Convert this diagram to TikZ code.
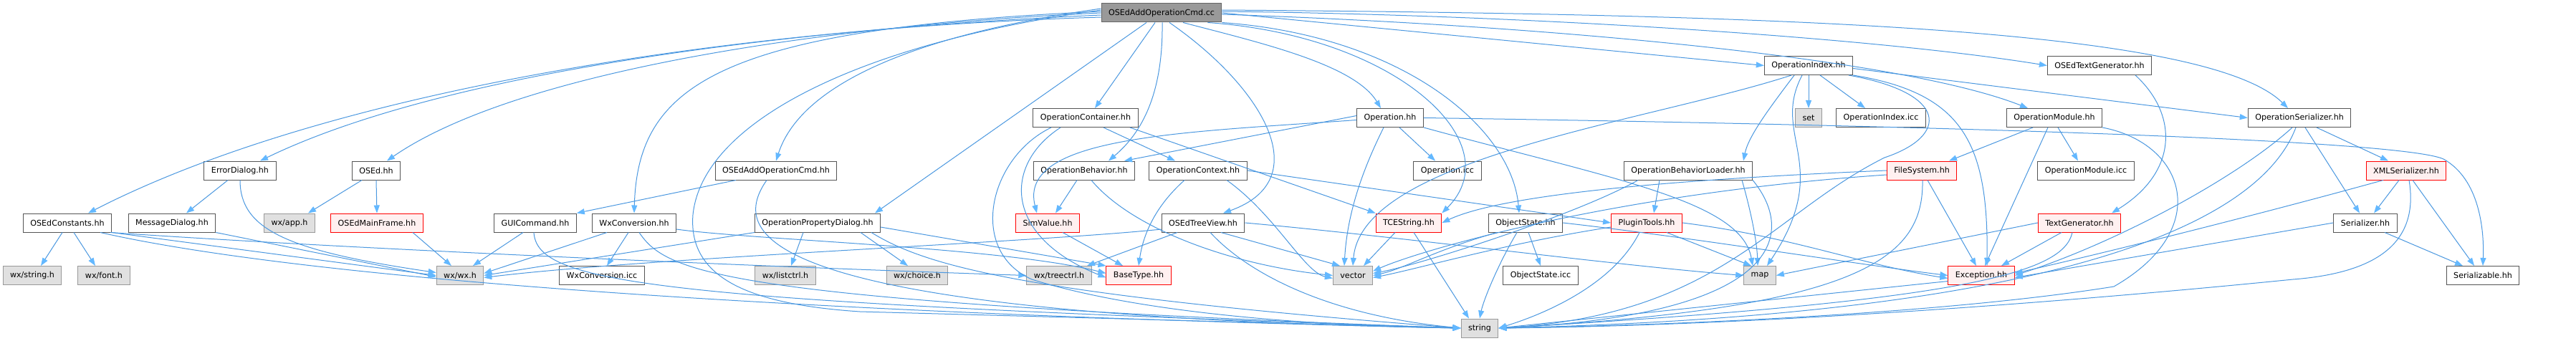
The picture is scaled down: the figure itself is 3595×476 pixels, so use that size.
\documentclass[tikz,border=0pt]{standalone}
\usepackage{fontspec}
\setmainfont{DejaVu Sans}
\usetikzlibrary{arrows.meta}
\definecolor{edgecol}{HTML}{4B98E0}
\definecolor{arrcol}{HTML}{63B8FF}
\definecolor{ndb}{HTML}{555555}
\definecolor{grb}{HTML}{999999}
\definecolor{grf}{HTML}{E0E0E0}
\definecolor{rdf}{HTML}{FFF0F0}
\definecolor{rtb}{HTML}{666666}
\definecolor{rtf}{HTML}{999999}
\newcommand\nodefnt{\fontsize{11.1pt}{13pt}\selectfont}
\begin{document}
\begin{tikzpicture}[x=1pt,y=-1pt,
  base/.style={draw, line width=1pt, minimum height=26pt, inner xsep=10pt, inner ysep=0pt, font=\nodefnt, text=black},
  nd/.style={base, draw=ndb, fill=white},
  gr/.style={base, draw=grb, fill=grf},
  rd/.style={base, draw=red, fill=rdf},
  rt/.style={base, draw=rtb, fill=rtf},
  dep/.style={draw=edgecol, line width=1pt, -{Triangle[length=11pt,width=8pt,color=arrcol]}}]
\fill[white] (0,0) rectangle (3595,476);
\path[use as bounding box] (0,0) rectangle (3595,476);

% nodes
\node[rt] (R) at (1621,18) {OSEdAddOperationCmd.cc};
\node[nd] (oidx) at (2524,91.5) {OperationIndex.hh};
\node[nd] (otg) at (2930,91.5) {OSEdTextGenerator.hh};
\node[nd] (opcont) at (1515,164.5) {OperationContainer.hh};
\node[nd] (op) at (1940,164.5) {Operation.hh};
\node[gr] (set) at (2524,164.5) {set};
\node[nd] (oidxicc) at (2625,164.5) {OperationIndex.icc};
\node[nd] (omod) at (2867,164.5) {OperationModule.hh};
\node[nd] (oser) at (3209,164.5) {OperationSerializer.hh};
\node[nd] (errd) at (335,238) {ErrorDialog.hh};
\node[nd] (osed) at (525,238) {OSEd.hh};
\node[nd] (addh) at (1083,238) {OSEdAddOperationCmd.hh};
\node[nd] (opbeh) at (1513,238) {OperationBehavior.hh};
\node[nd] (opctx) at (1672,238) {OperationContext.hh};
\node[nd] (opicc) at (2020,238) {Operation.icc};
\node[nd] (obl) at (2356,238) {OperationBehaviorLoader.hh};
\node[rd] (fs) at (2682,238) {FileSystem.hh};
\node[nd] (omicc) at (2911,238) {OperationModule.icc};
\node[rd] (xmls) at (3358,238) {XMLSerializer.hh};
\node[nd] (ocons) at (94,311) {OSEdConstants.hh};
\node[nd] (msgd) at (240,311) {MessageDialog.hh};
\node[gr] (wxapp) at (404,311) {wx/app.h};
\node[rd] (mframe) at (526,311) {OSEdMainFrame.hh};
\node[nd] (guic) at (747,311) {GUICommand.hh};
\node[nd] (wxc) at (885,311) {WxConversion.hh};
\node[nd] (oprop) at (1141,311) {OperationPropertyDialog.hh};
\node[rd] (simv) at (1462,311) {SimValue.hh};
\node[nd] (tview) at (1679,311) {OSEdTreeView.hh};
\node[rd] (tce) at (1966,311) {TCEString.hh};
\node[nd] (ost) at (2129,311) {ObjectState.hh};
\node[rd] (plug) at (2298,311) {PluginTools.hh};
\node[rd] (tgen) at (2902,311) {TextGenerator.hh};
\node[nd] (ser) at (3301,311) {Serializer.hh};
\node[gr] (wxstr) at (45,384.5) {wx/string.h};
\node[gr] (wxfont) at (145,384.5) {wx/font.h};
\node[gr] (wxwx) at (642,384.5) {wx/wx.h};
\node[nd] (wxcicc) at (840,384.5) {WxConversion.icc};
\node[gr] (listc) at (1096,384.5) {wx/listctrl.h};
\node[gr] (choice) at (1280,384.5) {wx/choice.h};
\node[gr] (treec) at (1478,384.5) {wx/treectrl.h};
\node[rd] (btype) at (1589,384.5) {BaseType.hh};
\node[gr] (vec) at (1888,384.5) {vector};
\node[nd] (osticc) at (2150,384.5) {ObjectState.icc};
\node[gr] (map) at (2456,384.5) {map};
\node[rd] (exc) at (2765,384.5) {Exception.hh};
\node[nd] (sable) at (3465,384.5) {Serializable.hh};
\node[gr] (str) at (2065,458) {string};

% root edges
\draw[dep] ([yshift=-6pt]R.west) .. controls (1000,40) and (450,130) .. ([xshift=29pt]ocons.north);
\draw[dep] ([yshift=-3pt]R.west) .. controls (1100,40) and (620,100) .. ([xshift=28pt]errd.north);
\draw[dep] (R.west) .. controls (1150,35) and (720,100) .. ([xshift=15pt]osed.north);
\draw[dep] ([yshift=2pt]R.west) .. controls (1000,40) and (890,120) .. (wxc.north);
\draw[dep] ([yshift=4pt]R.west) .. controls (1200,60) and (980,170) .. (967,300) .. controls (960,390) and (1050,425) .. (1200,435) -- (str.west);
\draw[dep] ([yshift=6pt]R.west) .. controls (1300,45) and (1120,110) .. (addh.north);
\draw[dep] ([xshift=-21pt]R.south) -- ([xshift=80pt]oprop.north);
\draw[dep] ([xshift=-9pt]R.south) -- ([xshift=13pt]opcont.north);
\draw[dep] ([xshift=1pt]R.south) .. controls (1623,120) and (1600,180) .. ([xshift=34pt]opbeh.north);
\draw[dep] ([xshift=11pt]R.south) .. controls (1760,120) and (1840,250) .. ([xshift=28pt]tview.north);
\draw[dep] ([xshift=30pt]R.south) .. controls (1760,60) and (1890,90) .. ([xshift=-13pt]op.north);
\draw[dep] ([xshift=-20pt]R.south east) .. controls (1950,50) and (2110,200) .. (tce.north east);
\draw[dep] (R.south east) .. controls (1960,50) and (2110,180) .. ([xshift=-9pt]ost.north);
\draw[dep] (R.east) -- (oidx.west);
\draw[dep] ([yshift=2pt]R.east) .. controls (2100,20) and (2600,50) .. (otg.west);
\draw[dep] ([yshift=-2pt]R.east) .. controls (2150,35) and (2650,80) .. ([xshift=-37pt]omod.north);
\draw[dep] ([yshift=4pt]R.east) .. controls (2500,20) and (3080,40) .. ([xshift=-16pt]oser.north);

% left part
\draw[dep] ([xshift=-7pt]ocons.south) -- ([xshift=12pt]wxstr.north);
\draw[dep] ([xshift=9pt]ocons.south) -- ([xshift=-12pt]wxfont.north);
\draw[dep] (ocons.south east) -- (wxwx.west);
\draw[dep] ([xshift=46pt]ocons.south) .. controls (450,395) and (1200,440) .. (str.west);
\draw[dep] ([xshift=60pt]ocons.south) .. controls (450,345) and (1000,370) .. (treec.west);
\draw[dep] ([xshift=-17pt]errd.south) -- ([xshift=20pt]msgd.north);
\draw[dep] (errd.south) .. controls (335,320) and (400,350) .. ([yshift=4pt]wxwx.west);
\draw[dep] (msgd.south east) -- ([yshift=-2pt]wxwx.west);
\draw[dep] ([xshift=-20pt]osed.south) -- ([xshift=26pt]wxapp.north);
\draw[dep] (osed.south) -- (mframe.north);
\draw[dep] ([xshift=50pt]mframe.south) -- ([xshift=-12pt]wxwx.north);
\draw[dep] ([xshift=-56pt]addh.south) -- (guic.north east);
\draw[dep] ([xshift=-13pt]addh.south) .. controls (1015,330) and (1060,440) .. (str.west);
\draw[dep] ([xshift=-17pt]guic.south) -- ([xshift=18pt]wxwx.north);
\draw[dep] ([xshift=-2pt]guic.south) .. controls (750,395) and (900,420) .. (str.west);
\draw[dep] ([xshift=-38pt]wxc.south) -- ([yshift=3pt]wxwx.east);
\draw[dep] ([xshift=-8pt]wxc.south) -- ([xshift=7pt]wxcicc.north);
\draw[dep] ([xshift=7pt]wxc.south) .. controls (930,380) and (1000,420) .. (str.west);
\draw[dep] ([yshift=-9pt]wxc.east) .. controls (1050,335) and (1400,345) .. ([yshift=3pt]btype.west);
\draw[dep] (oprop.south west) -- (wxwx.east);
\draw[dep] ([xshift=-20pt]oprop.south) -- ([xshift=8pt]listc.north);
\draw[dep] ([xshift=60pt]oprop.south) -- ([xshift=-13pt]choice.north);
\draw[dep] ([xshift=75pt]oprop.south) .. controls (1290,370) and (1420,410) .. (str.west);
\draw[dep] ([yshift=-6pt]oprop.east) -- (btype.north west);

% middle part
\draw[dep] ([xshift=-48pt]opcont.south) .. controls (1380,220) and (1350,350) .. (1440,390) .. controls (1600,440) and (1850,455) .. (str.west);
\draw[dep] ([xshift=-35pt]opcont.south) .. controls (1400,230) and (1400,330) .. ([yshift=-3pt]btype.west);
\draw[dep] ([xshift=25pt]opcont.south) -- ([xshift=-32pt]opctx.north);
\draw[dep] ([xshift=62pt]opcont.south) -- (tce.north west);
\draw[dep] ([xshift=-10pt]opbeh.south) -- ([xshift=11pt]simv.north);
\draw[dep] ([xshift=10pt]opbeh.south) .. controls (1580,320) and (1720,370) .. (vec.west);
\draw[dep] ([yshift=3pt]op.west) -- ([xshift=-15pt]opbeh.north east);
\draw[dep] ([yshift=-3pt]op.west) .. controls (1650,185) and (1420,190) .. ([xshift=-15pt]simv.north);
\draw[dep] ([xshift=21pt]simv.south) -- ([xshift=-22pt]btype.north);
\draw[dep] ([xshift=-19pt]opctx.south) .. controls (1610,290) and (1595,330) .. (btype.north);
\draw[dep] ([xshift=40pt]opctx.south) .. controls (1780,300) and (1820,380) .. ([yshift=-4pt]vec.west);
\draw[dep] (opctx.east) -- (plug.west);
\draw[dep] ([yshift=-9pt]tview.west) .. controls (1450,338) and (900,360) .. ([yshift=-3pt]wxwx.east);
\draw[dep] ([xshift=-36pt]tview.south) -- ([xshift=39pt]treec.north);
\draw[dep] ([xshift=25pt]tview.south) -- ([xshift=-18pt]vec.north);
\draw[dep] ([xshift=10pt]tview.south) .. controls (1740,380) and (1850,440) .. (str.west);
\draw[dep] (tview.east) .. controls (1950,330) and (2250,370) .. (map.west);
\draw[dep] ([xshift=-9pt]op.south) .. controls (1900,240) and (1880,300) .. ([xshift=-12pt]vec.north);
\draw[dep] ([xshift=13pt]op.south) -- ([xshift=-17pt]opicc.north);
\draw[dep] (op.south east) .. controls (2250,250) and (2430,280) .. ([xshift=-10pt]map.north);
\draw[dep] (op.east) .. controls (2700,175) and (3350,195) .. (3410,222) .. controls (3460,250) and (3467,320) .. (sable.north);
\draw[dep] ([xshift=-19pt]tce.south) -- ([xshift=15pt]vec.north);
\draw[dep] ([xshift=7pt]tce.south) -- ([xshift=-15pt]str.north);
\draw[dep] ([xshift=4pt]ost.south) -- (osticc.north);
\draw[dep] ([xshift=-12pt]ost.south) .. controls (2090,370) and (2070,420) .. (str.north);
\draw[dep] ([xshift=-40pt]ost.south) .. controls (2000,350) and (1960,375) .. (vec.east);
\draw[dep] (ost.east) .. controls (2350,330) and (2600,370) .. (exc.west);
\draw[dep] ([yshift=-6pt]plug.west) .. controls (2100,340) and (1980,375) .. ([yshift=-3pt]vec.east);
\draw[dep] ([xshift=28pt]plug.south) -- ([xshift=-12pt]map.north);
\draw[dep] ([xshift=-10pt]plug.south) .. controls (2250,400) and (2150,440) .. (str.east);
\draw[dep] (plug.east) .. controls (2500,330) and (2600,370) .. ([yshift=-4pt]exc.west);
\draw[dep] ([xshift=-40pt]obl.south) -- ([xshift=10pt]plug.north);
\draw[dep] ([xshift=75pt]obl.south) .. controls (2445,300) and (2452,340) .. ([xshift=-3pt]map.north);
\draw[dep] (obl.south east) .. controls (2510,330) and (2480,440) .. (str.east);
\draw[dep] ([xshift=-70pt]obl.south) .. controls (2200,300) and (1980,370) .. ([yshift=3pt]vec.east);

% right part
\draw[dep] ([xshift=-24pt]oidx.south) .. controls (2300,170) and (1900,220) .. (vec.north);
\draw[dep] ([xshift=-20pt]oidx.south) .. controls (2470,150) and (2440,190) .. ([xshift=77pt]obl.north);
\draw[dep] ([xshift=-9pt]oidx.south) .. controls (2470,190) and (2560,230) .. ([xshift=10pt]map.north);
\draw[dep] (oidx.south) -- (set.north);
\draw[dep] ([xshift=16pt]oidx.south) -- ([xshift=-22pt]oidxicc.north);
\draw[dep] ([xshift=56pt]oidx.south) .. controls (2720,130) and (2720,190) .. (2630,220) .. controls (2470,300) and (2400,440) .. (str.east);
\draw[dep] (oidx.south east) .. controls (2740,130) and (2775,200) .. ([xshift=8pt]exc.north);
\draw[dep] ([yshift=-4pt]oidx.east) -- (oser.west);
\draw[dep] ([xshift=-30pt]omod.south) -- ([xshift=38pt]fs.north);
\draw[dep] ([xshift=-9pt]omod.south) -- ([xshift=5pt]exc.north);
\draw[dep] ([xshift=5pt]omod.south) -- ([xshift=-11pt]omicc.north);
\draw[dep] (omod.south east) .. controls (3050,200) and (3090,320) .. (2950,400) .. controls (2700,440) and (2300,455) .. (str.east);
\draw[dep] ([xshift=50pt]otg.south) .. controls (3040,160) and (3040,240) .. ([xshift=45pt]tgen.north);
\draw[dep] ([xshift=-25pt]tgen.south) -- ([xshift=28pt]exc.north);
\draw[dep] (tgen.west) .. controls (2750,330) and (2550,370) .. (map.east);
\draw[dep] ([xshift=-10pt]tgen.south) .. controls (2880,380) and (2750,420) .. (str.east);
\draw[dep] (fs.west) .. controls (2350,250) and (2100,270) .. (tce.east);
\draw[dep] ([yshift=-6pt]fs.west) .. controls (2250,270) and (1980,350) .. ([yshift=6pt]vec.east);
\draw[dep] ([xshift=8pt]fs.south) -- ([xshift=-7pt]exc.north);
\draw[dep] ([xshift=1pt]fs.south) .. controls (2685,360) and (2600,430) .. (str.east);
\draw[dep] ([yshift=-8pt]exc.west) -- (str.east);
\draw[dep] ([xshift=24pt]oser.south) -- ([xshift=-25pt]xmls.north);
\draw[dep] ([xshift=8pt]oser.south) -- ([xshift=-8pt]ser.north);
\draw[dep] ([xshift=-10pt]oser.south) .. controls (3120,250) and (2950,340) .. (exc.east);
\draw[dep] ([xshift=-5pt]oser.south) .. controls (3150,320) and (2850,440) .. (str.east);
\draw[dep] ([xshift=-10pt]xmls.south) -- ([xshift=12pt]ser.north);
\draw[dep] ([xshift=9pt]xmls.south) -- ([xshift=-12pt]sable.north);
\draw[dep] ([xshift=-32pt]xmls.south) .. controls (3150,300) and (2950,350) .. ([yshift=3pt]exc.east);
\draw[dep] ([xshift=4pt]xmls.south) .. controls (3375,330) and (3330,380) .. (3200,390) .. controls (2800,430) and (2400,455) .. (str.east);
\draw[dep] ([xshift=27pt]ser.south) -- ([xshift=-28pt]sable.north);
\draw[dep] (ser.west) -- ([yshift=-3pt]exc.east);
\end{tikzpicture}
\end{document}
